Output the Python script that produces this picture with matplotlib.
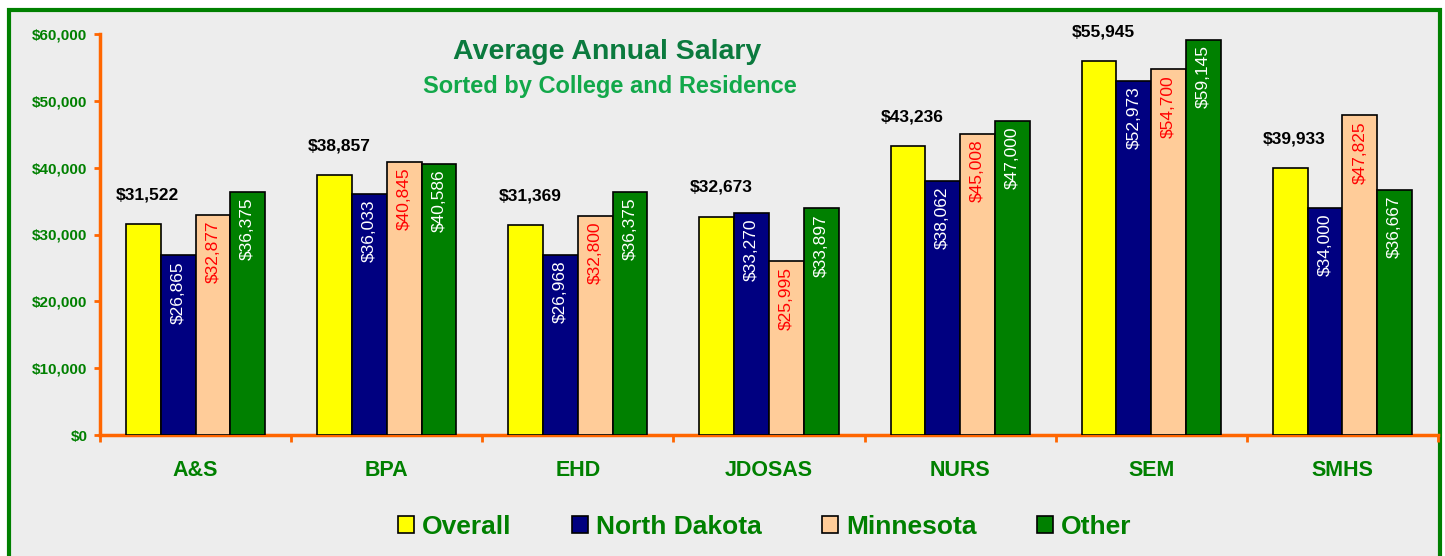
import matplotlib
matplotlib.use('Agg')
import matplotlib.pyplot as plt
import numpy as np
from matplotlib.patches import Rectangle
from matplotlib.ticker import FuncFormatter, FixedLocator

plt.rcParams['font.family'] = ['Liberation Sans', 'DejaVu Sans']

# --- data ---
colleges = ["A&S", "BPA", "EHD", "JDOSAS", "NURS", "SEM", "SMHS"]
overall = [31522, 38857, 31369, 32673, 43236, 55945, 39933]
north_dakota = [26865, 36033, 26968, 33270, 38062, 52973, 34000]
minnesota = [32877, 40845, 32800, 25995, 45008, 54700, 47825]
other = [36375, 40586, 36375, 33897, 47000, 59145, 36667]
series_names = ["Overall", "North Dakota", "Minnesota", "Other"]

# --- style ---
GREEN = '#008000'
ORANGE = '#FF6600'
BG = '#EDEDED'
bar_colors = ['#FFFF00', '#000080', '#FFCC99', '#008000']
inner_label_colors = [None, 'white', '#FF0000', 'white']

fig = plt.figure(figsize=(14.45, 5.56), dpi=100, facecolor='white')
W, H = 1445, 556

# chart area frame (behind the axes)
fig.patches.append(Rectangle((9 / W, -0.05), (1440 - 9) / W, (556 - 10) / H + 0.05,
                             transform=fig.transFigure, facecolor=BG,
                             edgecolor=GREEN, linewidth=3, zorder=-10))

ax = fig.add_axes([100 / W, (556 - 435) / H, (1438 - 100) / W, (435 - 34) / H])
ax.set_facecolor('none')
ax.set_zorder(1)

x = np.arange(len(colleges))
w = 0.182
all_series = [overall, north_dakota, minnesota, other]
handles = []
for i, (vals, col) in enumerate(zip(all_series, bar_colors)):
    pos = x + (i - 1.5) * w
    bars = ax.bar(pos, vals, width=w, color=col, edgecolor='black', linewidth=1.2,
                  label=series_names[i], zorder=3)
    handles.append(bars)
    for p, v in zip(pos, vals):
        txt = "${:,}".format(v)
        if i == 0:
            ax.annotate(txt, (p, v), xytext=(3, 21), textcoords='offset points',
                        ha='center', va='center', fontsize=12.5, fontweight='bold',
                        color='black', zorder=4)
        else:
            ax.annotate(txt, (p, v), xytext=(0, -4), textcoords='offset points',
                        ha='center', va='top', rotation=90, fontsize=12.5,
                        color=inner_label_colors[i], zorder=4)

ax.set_xlim(-0.5, len(colleges) - 0.5)
ax.set_ylim(0, 60000)
ax.set_yticks(np.arange(0, 60001, 10000))
ax.yaxis.set_major_formatter(FuncFormatter(lambda v, _: "${:,.0f}".format(v)))
ax.set_xticks(x)
ax.set_xticklabels(colleges)
ax.xaxis.set_minor_locator(FixedLocator(np.arange(-0.5, len(colleges), 1.0)))

for s in ['top', 'right']:
    ax.spines[s].set_visible(False)
for s in ['left', 'bottom']:
    ax.spines[s].set_color(ORANGE)
    ax.spines[s].set_linewidth(2.5)

ax.tick_params(axis='y', colors=ORANGE, length=4, width=2, pad=5,
               labelcolor=GREEN, labelsize=11)
ax.tick_params(axis='x', which='major', length=0, pad=18,
               labelcolor=GREEN, labelsize=15.5)
ax.tick_params(axis='x', which='minor', colors=ORANGE, length=5, width=2)
for lab in ax.get_yticklabels() + ax.get_xticklabels():
    lab.set_fontweight('bold')

# titles
fig.text(607 / W, 1 - 52 / H, "Average Annual Salary", ha='center', va='center',
         fontsize=20.5, fontweight='bold', color='#0B7A3E')
fig.text(610 / W, 1 - 86 / H, "Sorted by College and Residence", ha='center',
         va='center', fontsize=17, fontweight='bold', color='#12A84A')

# legend
fig.legend(handles=handles, labels=series_names, loc='center',
           bbox_to_anchor=(765 / W, 1 - 527 / H), ncol=4, frameon=False,
           prop={'weight': 'bold', 'size': 19}, labelcolor=GREEN,
           handlelength=0.6, handleheight=0.6, handletextpad=0.3,
           columnspacing=2.3)

fig.savefig('out.png', dpi=100, facecolor=fig.get_facecolor())
